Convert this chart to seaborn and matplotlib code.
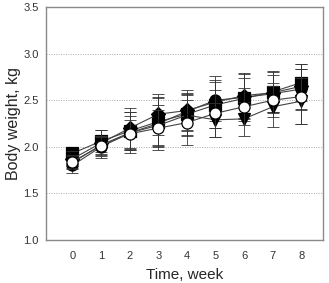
import matplotlib
matplotlib.use("Agg")
import matplotlib.pyplot as plt
import seaborn as sns
import pandas as pd
import numpy as np

weeks = [0, 1, 2, 3, 4, 5, 6, 7, 8]
sq_mean = [1.93, 2.06, 2.17, 2.27, 2.35, 2.45, 2.52, 2.59, 2.69]
fc_mean = [1.80, 2.00, 2.15, 2.25, 2.38, 2.50, 2.53, 2.57, 2.62]
dm_mean = [1.87, 2.04, 2.20, 2.35, 2.39, 2.48, 2.55, 2.58, 2.65]
tri_mean = [1.83, 2.02, 2.15, 2.23, 2.34, 2.29, 2.30, 2.43, 2.49]
oc_mean = [1.84, 2.01, 2.14, 2.20, 2.26, 2.36, 2.43, 2.50, 2.54]

sq_sd = [0.07, 0.12, 0.20, 0.25, 0.22, 0.25, 0.22, 0.22, 0.20]
fc_sd = [0.08, 0.12, 0.22, 0.28, 0.20, 0.22, 0.25, 0.20, 0.22]
dm_sd = [0.08, 0.14, 0.22, 0.22, 0.22, 0.28, 0.24, 0.22, 0.24]
tri_sd = [0.07, 0.10, 0.18, 0.22, 0.22, 0.18, 0.18, 0.22, 0.25]
oc_sd = [0.07, 0.10, 0.15, 0.20, 0.24, 0.25, 0.20, 0.18, 0.30]

series = [
    ("sq", sq_mean, sq_sd, "s", "black"),
    ("fc", fc_mean, fc_sd, "o", "black"),
    ("dm", dm_mean, dm_sd, "D", "black"),
    ("tri", tri_mean, tri_sd, "v", "black"),
    ("oc", oc_mean, oc_sd, "o", "white"),
]

sns.set_style("white")
plt.rcParams['font.family'] = ['Liberation Sans', 'DejaVu Sans']

fig = plt.figure(figsize=(3.29, 2.83), dpi=100)
ax = fig.add_axes([0.139, 0.152, 0.843, 0.823])

for gy in [1.5, 2.0, 2.5, 3.0]:
    ax.axhline(gy, color="#aaaaaa", lw=0.7, ls=(0, (1, 1.5)), zorder=0)

for i, (name, m, sd, mk, fcol) in enumerate(series):
    df = pd.DataFrame({"week": weeks, "bw": m})
    ax.errorbar(weeks, m, yerr=sd, fmt="none", ecolor="#333333", elinewidth=0.6,
                capsize=4, capthick=0.6, zorder=2 + i)
    sns.lineplot(data=df, x="week", y="bw", ax=ax, color="#444444", lw=0.8,
                 marker=mk, markersize=8 if mk != "D" else 7,
                 markerfacecolor=fcol, markeredgecolor="black",
                 markeredgewidth=0.9, zorder=3 + i)

ax.set_xlim(-0.93, 8.76)
ax.set_ylim(1.0, 3.5)
ax.set_xticks(weeks)
ax.set_yticks([1.0, 1.5, 2.0, 2.5, 3.0, 3.5])
ax.set_yticklabels(["1.0", "1.5", "2.0", "2.5", "3.0", "3.5"])
for s in ax.spines.values():
    s.set_color("#8a8a8a")
    s.set_linewidth(1.0)
ax.tick_params(axis="x", direction="in", length=7, width=0.8, color="#8a8a8a",
               labelsize=8, labelcolor="#333333", pad=8)
ax.tick_params(axis="y", direction="in", length=6, width=0.8, color="#8a8a8a",
               labelsize=8, labelcolor="#333333", pad=5)
ax.set_xlabel("Time, week", fontsize=11, labelpad=5)
ax.set_ylabel("Body weight, kg", fontsize=11.5, labelpad=2)

fig.savefig("out.png", dpi=100)
